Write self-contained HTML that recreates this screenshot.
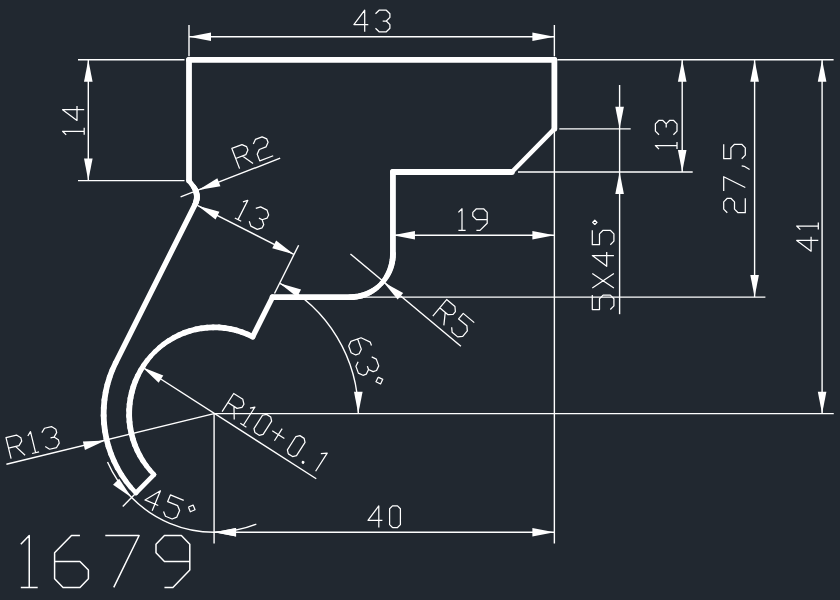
<!DOCTYPE html>
<html><head><meta charset="utf-8"><style>
html,body{margin:0;padding:0;font-family:"Liberation Sans",sans-serif;background:#212830;width:840px;height:600px;overflow:hidden}
svg{display:block}
path{fill:none;stroke:#ffffff;stroke-linecap:butt;stroke-linejoin:round}
path.a{fill:#ffffff;stroke:none}
path.t{stroke-linecap:round}
</style></head><body>
<svg width="840" height="600" viewBox="0 0 840 600">
<rect width="840" height="600" fill="#212830"/>
<path d="M189 25L189 56.3" stroke-width="1.4"/>
<path d="M554.37 25L554.37 56.3" stroke-width="1.4"/>
<path d="M189 36.7L554.37 36.7" stroke-width="1.4"/>
<path class="a" d="M189 36.7L211 32.4L211 41Z"/>
<path class="a" d="M554.37 36.7L532.37 41L532.37 32.4Z"/>
<path d="M364.7 31.8L364.7 10.2L353.9 24.6L368.3 24.6M375.5 13.8L379.1 10.2L386.3 10.2L389.9 13.8L389.9 17.4L386.3 21L389.9 24.6L389.9 28.2L386.3 31.8L379.1 31.8L375.5 28.2M382.7 21L386.3 21" stroke-width="1.25"/>
<path d="M78 59.8L184.5 59.8" stroke-width="1.4"/>
<path d="M78 180.62L184.5 180.62" stroke-width="1.4"/>
<path d="M88.3 59.8L88.3 180.62" stroke-width="1.4"/>
<path class="a" d="M88.3 59.8L92.6 81.8L84 81.8Z"/>
<path class="a" d="M88.3 180.62L84 158.62L92.6 158.62Z"/>
<path d="M66.2 134.85L62.6 131.25L84.2 131.25M84.2 134.85L84.2 127.65M84.2 109.65L62.6 109.65L77 120.45L77 106.05" stroke-width="1.25"/>
<path d="M557.5 59.8L833.6 59.8" stroke-width="1.4"/>
<path d="M559.3 128.84L630.7 128.84" stroke-width="1.4"/>
<path d="M518 171.99L692.7 171.99" stroke-width="1.4"/>
<path d="M351.44 297.12L765.4 297.12" stroke-width="1.4"/>
<path d="M214.09 413.63L833.75 413.63" stroke-width="1.4"/>
<path d="M554.37 128.84L554.37 543.5" stroke-width="1.4"/>
<path d="M214.09 413.63L214.09 543.4" stroke-width="1.4"/>
<path d="M619.6 85L619.6 314.2" stroke-width="1.4"/>
<path class="a" d="M619.6 128.84L615.3 106.84L623.9 106.84Z"/>
<path class="a" d="M619.6 171.99L623.9 193.99L615.3 193.99Z"/>
<path d="M592.3 295.1L592.3 309.5L599.5 309.5L599.5 298.7L603.1 295.1L610.3 295.1L613.9 298.7L613.9 305.9L610.3 309.5M613.9 287.9L592.3 273.5M592.3 287.9L613.9 273.5M613.9 255.5L592.3 255.5L606.7 266.3L606.7 251.9M592.3 230.3L592.3 244.7L599.5 244.7L599.5 233.9L603.1 230.3L610.3 230.3L613.9 233.9L613.9 241.1L610.3 244.7M594.82 224.54L596.98 222.38L594.82 220.22L592.66 222.38L594.82 224.54" stroke-width="1.25"/>
<path d="M682.2 59.8L682.2 171.99" stroke-width="1.4"/>
<path class="a" d="M682.2 59.8L686.5 81.8L677.9 81.8Z"/>
<path class="a" d="M682.2 171.99L677.9 149.99L686.5 149.99Z"/>
<path d="M659 149.1L655.4 145.5L677 145.5M677 149.1L677 141.9M659 134.7L655.4 131.1L655.4 123.9L659 120.3L662.6 120.3L666.2 123.9L669.8 120.3L673.4 120.3L677 123.9L677 131.1L673.4 134.7M666.2 127.5L666.2 123.9" stroke-width="1.25"/>
<path d="M754.6 59.8L754.6 297.12" stroke-width="1.4"/>
<path class="a" d="M754.6 59.8L758.9 81.8L750.3 81.8Z"/>
<path class="a" d="M754.6 297.12L750.3 275.12L758.9 275.12Z"/>
<path d="M727.3 212.7L723.7 209.1L723.7 201.9L727.3 198.3L730.9 198.3L734.5 201.9L734.5 209.1L738.1 212.7L745.3 212.7L745.3 198.3M723.7 191.1L723.7 176.7L745.3 187.5M741.7 165.9L744.22 166.26L749.62 169.5M723.7 144.3L723.7 158.7L730.9 158.7L730.9 147.9L734.5 144.3L741.7 144.3L745.3 147.9L745.3 155.1L741.7 158.7" stroke-width="1.25"/>
<path d="M822.1 59.8L822.1 413.63" stroke-width="1.4"/>
<path class="a" d="M822.1 59.8L826.4 81.8L817.8 81.8Z"/>
<path class="a" d="M822.1 413.63L817.8 391.63L826.4 391.63Z"/>
<path d="M818.3 240.4L796.7 240.4L811.1 251.2L811.1 236.8M800.3 229.6L796.7 226L818.3 226M818.3 229.6L818.3 222.4" stroke-width="1.25"/>
<path d="M392.93 235.3L554.37 235.3" stroke-width="1.4"/>
<path class="a" d="M392.93 235.3L414.93 231L414.93 239.6Z"/>
<path class="a" d="M554.37 235.3L532.37 239.6L532.37 231Z"/>
<path d="M458.4 212.4L462 208.8L462 230.4M458.4 230.4L465.6 230.4M487.2 219.6L476.4 219.6L472.8 216L472.8 212.4L476.4 208.8L483.6 208.8L487.2 212.4L487.2 223.2L480 230.4L476.4 230.4" stroke-width="1.25"/>
<path d="M214.09 532.2L554.37 532.2" stroke-width="1.4"/>
<path class="a" d="M214.09 532.2L236.09 527.9L236.09 536.5Z"/>
<path class="a" d="M554.37 532.2L532.37 536.5L532.37 527.9Z"/>
<path d="M378.8 527.5L378.8 505.9L368 520.3L382.4 520.3M392.48 527.5L397.52 527.5L400.4 524.62L400.4 508.78L397.52 505.9L392.48 505.9L389.6 508.78L389.6 524.62L392.48 527.5" stroke-width="1.25"/>
<path d="M180.6 196.9L280.2 158.2" stroke-width="1.4"/>
<path class="a" d="M198.35 190.1L217.35 178.21L220.43 186.24Z"/>
<path d="M239.6 168.6L231.87 148.43L241.95 144.57L246.6 146.64L247.89 150L245.82 154.65L235.73 158.52M242.46 155.94L253.05 163.45M253.33 144.06L255.4 139.41L262.12 136.84L266.77 138.91L268.06 142.27L265.99 146.92L259.27 149.5L257.19 154.15L259.77 160.87L273.22 155.72" stroke-width="1.25"/>
<path d="M197.9 205.7L293.8 254.3" stroke-width="1.4"/>
<path class="a" d="M197.9 205.7L219.46 211.83L215.57 219.5Z"/>
<path class="a" d="M293.8 254.3L272.24 248.17L276.13 240.5Z"/>
<path d="M274.5 293.5L298.6 245.3" stroke-width="1.4"/>
<path d="M242.94 201.95L247.78 200.37L238.01 219.63M234.8 218L241.22 221.26M255.79 208.46L260.62 206.88L267.05 210.14L268.63 214.98L267 218.19L262.16 219.77L263.74 224.61L262.11 227.82L257.27 229.4L250.85 226.14L249.27 221.3M258.95 218.14L262.16 219.77" stroke-width="1.25"/>
<path d="M350.44 253.98L460.9 346.3" stroke-width="1.4"/>
<path class="a" d="M383.54 282.15L403.17 292.97L397.66 299.56Z"/>
<path d="M432.8 316.1L446.66 299.53L454.94 306.46L455.39 311.53L453.08 314.29L448.01 314.74L439.73 307.81M445.25 312.43L443.85 325.34M474.27 322.62L463.23 313.38L458.61 318.91L466.89 325.84L467.35 330.91L462.73 336.43L457.66 336.88L452.13 332.26L451.68 327.19" stroke-width="1.25"/>
<path d="M279.56 283.14A144.2 146.46 0 0 1 358.29 413.63" stroke-width="1.4"/>
<path class="a" d="M279.56 283.14L301.07 289.43L297.12 297.07Z"/>
<path class="a" d="M358.29 413.63L353.99 391.63L362.59 391.63Z"/>
<path d="M371.47 345.53L370.26 342.14L361.07 337.77L350.89 341.39L348.71 345.99L351.12 352.77L355.72 354.96L359.11 353.75L361.3 349.15L357.67 338.98M371.7 356.91L376.3 359.09L378.72 365.88L376.53 370.48L373.14 371.68L368.54 369.5L366.36 374.1L362.97 375.31L358.37 373.12L355.95 366.34L358.14 361.74M367.34 366.11L368.54 369.5M378.15 377.16L375.97 381.76L380.56 383.94L382.75 379.34L378.15 377.16" stroke-width="1.25"/>
<path d="M6.4 464.3L214.09 413.63" stroke-width="1.4"/>
<path class="a" d="M105.3 440.5L84.95 449.89L82.91 441.54Z"/>
<path d="M11.1 458.6L6 437.61L16.49 435.06L20.84 437.71L21.69 441.2L19.04 445.55L8.55 448.11M15.54 446.4L25.09 455.2M27.83 436.01L30.48 431.66L35.59 452.64M32.09 453.5L39.08 451.79M41.83 432.6L44.47 428.25L51.47 426.55L55.82 429.2L56.67 432.7L54.02 437.05L58.37 439.69L59.22 443.19L56.57 447.54L49.58 449.24L45.23 446.59M50.52 437.9L54.02 437.05" stroke-width="1.25"/>
<path d="M142.43 367.26L316.25 478.75" stroke-width="1.4"/>
<path class="a" d="M142.43 367.26L163.29 375.45L158.67 382.71Z"/>
<path d="M222.1 411.7L233.71 393.48L242.81 399.29L243.92 404.26L241.98 407.29L237.01 408.39L227.9 402.59M233.98 406.46L234.24 419.44M249.99 408.12L254.96 407.02L243.35 425.24M240.32 423.31L246.39 427.17M254.89 432.59L259.14 435.3L263.12 434.42L271.63 421.06L270.75 417.08L266.5 414.37L262.52 415.25L254.01 428.61L254.89 432.59M272.23 430.83L284.38 438.57M274.44 440.77L282.17 428.63M288.29 453.87L292.54 456.58L296.52 455.69L305.03 442.33L304.15 438.36L299.9 435.65L295.92 436.53L287.41 449.89L288.29 453.87M301.95 462.57L303.17 463.35L303.94 462.13L302.73 461.36L301.95 462.57M320.84 453.69L327.22 453.06L315.62 471.28" stroke-width="1.25"/>
<path d="M107.52 462.05A116.74 118.57 0 0 0 256.31 524.18" stroke-width="1.4"/>
<path class="a" d="M131.54 497.47L113.04 484.81L119.17 478.78Z"/>
<path class="a" d="M214.09 532.2L236.09 527.9L236.09 536.5Z"/>
<path d="M134.78 494.18L122.77 506.39" stroke-width="1.4"/>
<path d="M152.18 510.73L160.44 490.78L144.96 499.95L158.26 505.46M183.73 500.42L170.42 494.91L167.67 501.56L177.64 505.7L179.59 510.4L176.84 517.05L172.13 519L165.48 516.24L163.53 511.54M188.39 507.03L190.34 511.73L195.04 509.78L193.1 505.08L188.39 507.03" stroke-width="1.25"/>
<path d="M20.8 544.15L29.25 535.5L29.25 587.4M20.8 587.4L37.7 587.4M79.95 535.5L71.5 535.5L54.6 552.8L54.6 578.75L63.05 587.4L79.95 587.4L88.4 578.75L88.4 570.1L79.95 561.45L54.6 561.45M105.3 535.5L139.1 535.5L113.75 587.4M189.8 561.45L164.45 561.45L156 552.8L156 544.15L164.45 535.5L181.35 535.5L189.8 544.15L189.8 570.1L172.9 587.4L164.45 587.4" stroke-width="1.5"/>
<path class="t" d="M189 59.8L189 180.62" stroke-width="5.8"/>
<path class="t" d="M189 180.62L193.53 186.77" stroke-width="4.98"/>
<path class="t" d="M193.53 186.77L194.19 187.73" stroke-width="5.07"/>
<path class="t" d="M194.19 187.73L194.79 188.74" stroke-width="5.23"/>
<path class="t" d="M194.79 188.74L195.31 189.78" stroke-width="5.36"/>
<path class="t" d="M195.31 189.78L195.76 190.86" stroke-width="5.48"/>
<path class="t" d="M195.76 190.86L196.13 191.97" stroke-width="5.58"/>
<path class="t" d="M196.13 191.97L196.43 193.1" stroke-width="5.67"/>
<path class="t" d="M196.43 193.1L196.65 194.25" stroke-width="5.73"/>
<path class="t" d="M196.65 194.25L196.79 195.41" stroke-width="5.77"/>
<path class="t" d="M196.79 195.41L196.85 196.58" stroke-width="5.79"/>
<path class="t" d="M196.85 196.58L196.83 197.75" stroke-width="5.8"/>
<path class="t" d="M196.83 197.75L196.73 198.91" stroke-width="5.78"/>
<path class="t" d="M196.73 198.91L196.54 200.07" stroke-width="5.75"/>
<path class="t" d="M196.54 200.07L196.28 201.2" stroke-width="5.7"/>
<path class="t" d="M196.28 201.2L195.95 202.32" stroke-width="5.63"/>
<path class="t" d="M195.95 202.32L195.53 203.42" stroke-width="5.53"/>
<path class="t" d="M195.53 203.42L195.05 204.48" stroke-width="5.42"/>
<path class="t" d="M195.05 204.48L115.67 362.7" stroke-width="5.36"/>
<path class="t" d="M115.67 362.7L112.41 369.79" stroke-width="5.42"/>
<path class="t" d="M112.41 369.79L109.65 377.1" stroke-width="5.54"/>
<path class="t" d="M109.65 377.1L107.39 384.59" stroke-width="5.63"/>
<path class="t" d="M107.39 384.59L105.66 392.22" stroke-width="5.7"/>
<path class="t" d="M105.66 392.22L104.45 399.96" stroke-width="5.75"/>
<path class="t" d="M104.45 399.96L103.78 407.76" stroke-width="5.79"/>
<path class="t" d="M103.78 407.76L103.65 415.59" stroke-width="5.8"/>
<path class="t" d="M103.65 415.59L104.05 423.41" stroke-width="5.79"/>
<path class="t" d="M104.05 423.41L104.99 431.18" stroke-width="5.77"/>
<path class="t" d="M104.99 431.18L106.46 438.87" stroke-width="5.73"/>
<path class="t" d="M106.46 438.87L108.46 446.43" stroke-width="5.67"/>
<path class="t" d="M108.46 446.43L110.97 453.84" stroke-width="5.58"/>
<path class="t" d="M110.97 453.84L113.98 461.04" stroke-width="5.48"/>
<path class="t" d="M113.98 461.04L117.48 468.02" stroke-width="5.36"/>
<path class="t" d="M117.48 468.02L121.45 474.73" stroke-width="5.22"/>
<path class="t" d="M121.45 474.73L125.87 481.15" stroke-width="5.06"/>
<path class="t" d="M125.87 481.15L130.73 487.23" stroke-width="4.88"/>
<path class="t" d="M130.73 487.23L135.98 492.96" stroke-width="4.68"/>
<path class="t" d="M135.98 492.96L154.01 474.65" stroke-width="4.58"/>
<path class="t" d="M154.01 474.65L150.01 470.3" stroke-width="4.68"/>
<path class="t" d="M150.01 470.3L146.32 465.68" stroke-width="4.88"/>
<path class="t" d="M146.32 465.68L142.95 460.82" stroke-width="5.06"/>
<path class="t" d="M142.95 460.82L139.92 455.73" stroke-width="5.22"/>
<path class="t" d="M139.92 455.73L137.24 450.43" stroke-width="5.35"/>
<path class="t" d="M137.24 450.43L134.92 444.97" stroke-width="5.47"/>
<path class="t" d="M134.92 444.97L132.98 439.35" stroke-width="5.58"/>
<path class="t" d="M132.98 439.35L131.43 433.62" stroke-width="5.66"/>
<path class="t" d="M131.43 433.62L130.27 427.78" stroke-width="5.72"/>
<path class="t" d="M130.27 427.78L129.51 421.88" stroke-width="5.77"/>
<path class="t" d="M129.51 421.88L129.15 415.94" stroke-width="5.79"/>
<path class="t" d="M129.15 415.94L129.2 409.99" stroke-width="5.8"/>
<path class="t" d="M129.2 409.99L129.64 404.06" stroke-width="5.79"/>
<path class="t" d="M129.64 404.06L130.49 398.17" stroke-width="5.76"/>
<path class="t" d="M130.49 398.17L131.74 392.36" stroke-width="5.71"/>
<path class="t" d="M131.74 392.36L133.38 386.65" stroke-width="5.64"/>
<path class="t" d="M133.38 386.65L135.4 381.06" stroke-width="5.56"/>
<path class="t" d="M135.4 381.06L137.8 375.63" stroke-width="5.45"/>
<path class="t" d="M137.8 375.63L140.56 370.38" stroke-width="5.33"/>
<path class="t" d="M140.56 370.38L143.67 365.34" stroke-width="5.18"/>
<path class="t" d="M143.67 365.34L147.11 360.53" stroke-width="5.02"/>
<path class="t" d="M147.11 360.53L150.87 355.97" stroke-width="4.84"/>
<path class="t" d="M150.87 355.97L154.94 351.68" stroke-width="4.63"/>
<path class="t" d="M154.94 351.68L159.28 347.69" stroke-width="4.68"/>
<path class="t" d="M159.28 347.69L163.88 344.01" stroke-width="4.88"/>
<path class="t" d="M163.88 344.01L168.73 340.66" stroke-width="5.06"/>
<path class="t" d="M168.73 340.66L173.79 337.66" stroke-width="5.22"/>
<path class="t" d="M173.79 337.66L179.04 335.02" stroke-width="5.36"/>
<path class="t" d="M179.04 335.02L184.45 332.75" stroke-width="5.48"/>
<path class="t" d="M184.45 332.75L190.01 330.87" stroke-width="5.58"/>
<path class="t" d="M190.01 330.87L195.68 329.38" stroke-width="5.67"/>
<path class="t" d="M195.68 329.38L201.44 328.29" stroke-width="5.73"/>
<path class="t" d="M201.44 328.29L207.26 327.61" stroke-width="5.77"/>
<path class="t" d="M207.26 327.61L213.11 327.34" stroke-width="5.8"/>
<path class="t" d="M213.11 327.34L218.97 327.47" stroke-width="5.8"/>
<path class="t" d="M218.97 327.47L224.81 328.02" stroke-width="5.78"/>
<path class="t" d="M224.81 328.02L230.59 328.97" stroke-width="5.75"/>
<path class="t" d="M230.59 328.97L236.29 330.33" stroke-width="5.69"/>
<path class="t" d="M236.29 330.33L241.89 332.08" stroke-width="5.61"/>
<path class="t" d="M241.89 332.08L247.36 334.22" stroke-width="5.52"/>
<path class="t" d="M247.36 334.22L252.67 336.74" stroke-width="5.4"/>
<path class="t" d="M252.67 336.74L272.54 297.12" stroke-width="5.36"/>
<path class="t" d="M272.54 297.12L350.44 297.12" stroke-width="5.8"/>
<path class="t" d="M350.44 297.12L353.34 297.02" stroke-width="5.8"/>
<path class="t" d="M353.34 297.02L356.23 296.72" stroke-width="5.78"/>
<path class="t" d="M356.23 296.72L359.09 296.22" stroke-width="5.74"/>
<path class="t" d="M359.09 296.22L361.91 295.52" stroke-width="5.68"/>
<path class="t" d="M361.91 295.52L364.67 294.63" stroke-width="5.6"/>
<path class="t" d="M364.67 294.63L367.37 293.55" stroke-width="5.51"/>
<path class="t" d="M367.37 293.55L369.99 292.29" stroke-width="5.39"/>
<path class="t" d="M369.99 292.29L372.52 290.84" stroke-width="5.25"/>
<path class="t" d="M372.52 290.84L374.94 289.23" stroke-width="5.1"/>
<path class="t" d="M374.94 289.23L377.25 287.45" stroke-width="4.93"/>
<path class="t" d="M377.25 287.45L379.44 285.51" stroke-width="4.74"/>
<path class="t" d="M379.44 285.51L381.49 283.43" stroke-width="4.58"/>
<path class="t" d="M381.49 283.43L383.4 281.21" stroke-width="4.78"/>
<path class="t" d="M383.4 281.21L385.15 278.86" stroke-width="4.97"/>
<path class="t" d="M385.15 278.86L386.74 276.4" stroke-width="5.13"/>
<path class="t" d="M386.74 276.4L388.16 273.83" stroke-width="5.28"/>
<path class="t" d="M388.16 273.83L389.41 271.17" stroke-width="5.41"/>
<path class="t" d="M389.41 271.17L390.47 268.43" stroke-width="5.52"/>
<path class="t" d="M390.47 268.43L391.35 265.62" stroke-width="5.61"/>
<path class="t" d="M391.35 265.62L392.04 262.75" stroke-width="5.69"/>
<path class="t" d="M392.04 262.75L392.53 259.85" stroke-width="5.74"/>
<path class="t" d="M392.53 259.85L392.83 256.92" stroke-width="5.78"/>
<path class="t" d="M392.83 256.92L392.93 253.98" stroke-width="5.8"/>
<path class="t" d="M392.93 253.98L392.93 171.99" stroke-width="5.8"/>
<path class="t" d="M392.93 171.99L511.89 171.99" stroke-width="5.8"/>
<path class="t" d="M511.89 171.99L554.37 128.84" stroke-width="4.58"/>
<path class="t" d="M554.37 128.84L554.37 59.8" stroke-width="5.8"/>
<path class="t" d="M554.37 59.8L189 59.8" stroke-width="5.8"/>
</svg>
</body></html>
